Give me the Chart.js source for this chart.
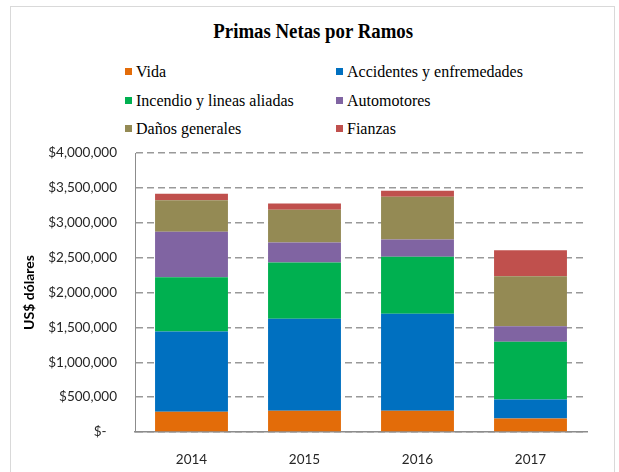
<!DOCTYPE html>
<html>
<head>
<meta charset="utf-8">
<script src="https://cdn.jsdelivr.net/npm/chart.js@4/dist/chart.umd.min.js"></script>
<style>
  html, body { margin: 0; padding: 0; background: #fff; }
  #wrap { position: relative; width: 619px; height: 472px; overflow: hidden; }
  #frame { position: absolute; left: 10px; top: 6px; width: 605px; height: 480px; border: 1px solid #d9d9d9; box-sizing: border-box; }
  #title { position: absolute; left: 10px; width: 606px; top: 21px; text-align: center;
           font: bold 20px "Liberation Serif", "Times New Roman", serif; line-height: 20px; color: #000; }
  #title span { display: inline-block; transform: scaleX(0.94); }
  #chart { position: absolute; left: 0; top: 0; }
  .lg { position: absolute; font: 16px "Liberation Serif", "Times New Roman", serif; line-height: 16px; color: #000; white-space: nowrap; }
  .lg i { position: absolute; left: -11px; top: 4px; width: 7px; height: 7px; }
</style>
</head>
<body>
<div id="wrap">
  <div id="frame"></div>
  <div id="title"><span>Primas Netas por Ramos</span></div>
  <div id="legend"></div>
  <canvas id="chart" width="619" height="472"></canvas>
</div>
<script>
  // Data (US$)
  const years = ["2014", "2015", "2016", "2017"];
  const seriesNames = ["Vida", "Accidentes y enfremedades", "Incendio y lineas aliadas", "Automotores", "Daños generales", "Fianzas"];
  const vida = [290000, 304000, 304000, 194000];
  const accidentes = [1151000, 1319000, 1391000, 272000];
  const incendio = [778000, 807000, 816000, 827000];
  const automotores = [651000, 287000, 249000, 224000];
  const danos = [453000, 469000, 612000, 717000];
  const fianzas = [91000, 90000, 86000, 372000];
  const yMax = 4000000;
  const yStep = 500000;

  const seriesValues = [vida, accidentes, incendio, automotores, danos, fianzas];
  const colors = ["#E36C09", "#0070C0", "#00B050", "#8064A2", "#948A54", "#C0504D"];

  // Legend: two columns, three rows (built as HTML)
  const legend = document.getElementById("legend");
  const colX = [136, 347];
  const rowY = [64, 93, 121];
  seriesNames.forEach((name, i) => {
    const item = document.createElement("div");
    item.className = "lg";
    item.style.left = colX[i % 2] + "px";
    item.style.top = rowY[Math.floor(i / 2)] + "px";
    item.innerHTML = '<i style="background:' + colors[i] + '"></i>';
    item.appendChild(document.createTextNode(name));
    legend.appendChild(item);
  });

  const tickFont = { family: "Lato, 'Open Sans', sans-serif", size: 13.5 };

  new Chart(document.getElementById("chart").getContext("2d"), {
    type: "bar",
    data: {
      labels: years,
      datasets: seriesNames.map((name, i) => ({
        label: name,
        data: seriesValues[i],
        backgroundColor: colors[i],
        borderWidth: 0,
        categoryPercentage: 1,
        barPercentage: 0.645,
      })),
    },
    options: {
      responsive: false,
      devicePixelRatio: 1,
      animation: false,
      layout: { padding: { top: 153, right: 32, bottom: 0, left: 0 } },
      plugins: { legend: { display: false }, tooltip: { enabled: false }, title: { display: false } },
      scales: {
        x: {
          stacked: true,
          afterFit: (s) => { s.height = 40; },
          grid: { display: false },
          border: { display: true, color: "#8c8c8c", width: 1.5 },
          ticks: { font: tickFont, color: "#262626", padding: 12 },
        },
        y: {
          stacked: true,
          min: 0,
          max: yMax,
          afterFit: (s) => { s.width = 135; },
          grid: { color: "#999999", lineWidth: 1.5, drawTicks: false },
          border: { display: true, color: "#8c8c8c", width: 1, dash: [7, 4] },
          ticks: {
            stepSize: yStep,
            padding: 18,
            font: tickFont,
            color: "#262626",
            callback: (v) => (v === 0 ? "$-   " : "$" + v.toLocaleString("en-US")),
          },
          title: {
            display: true,
            text: "US$ dólares",
            color: "#000",
            font: { family: "Lato, 'Open Sans', sans-serif", size: 14, weight: "bold" },
            padding: { top: 21, bottom: 0 },
          },
        },
      },
    },
  });
</script>
</body>
</html>
